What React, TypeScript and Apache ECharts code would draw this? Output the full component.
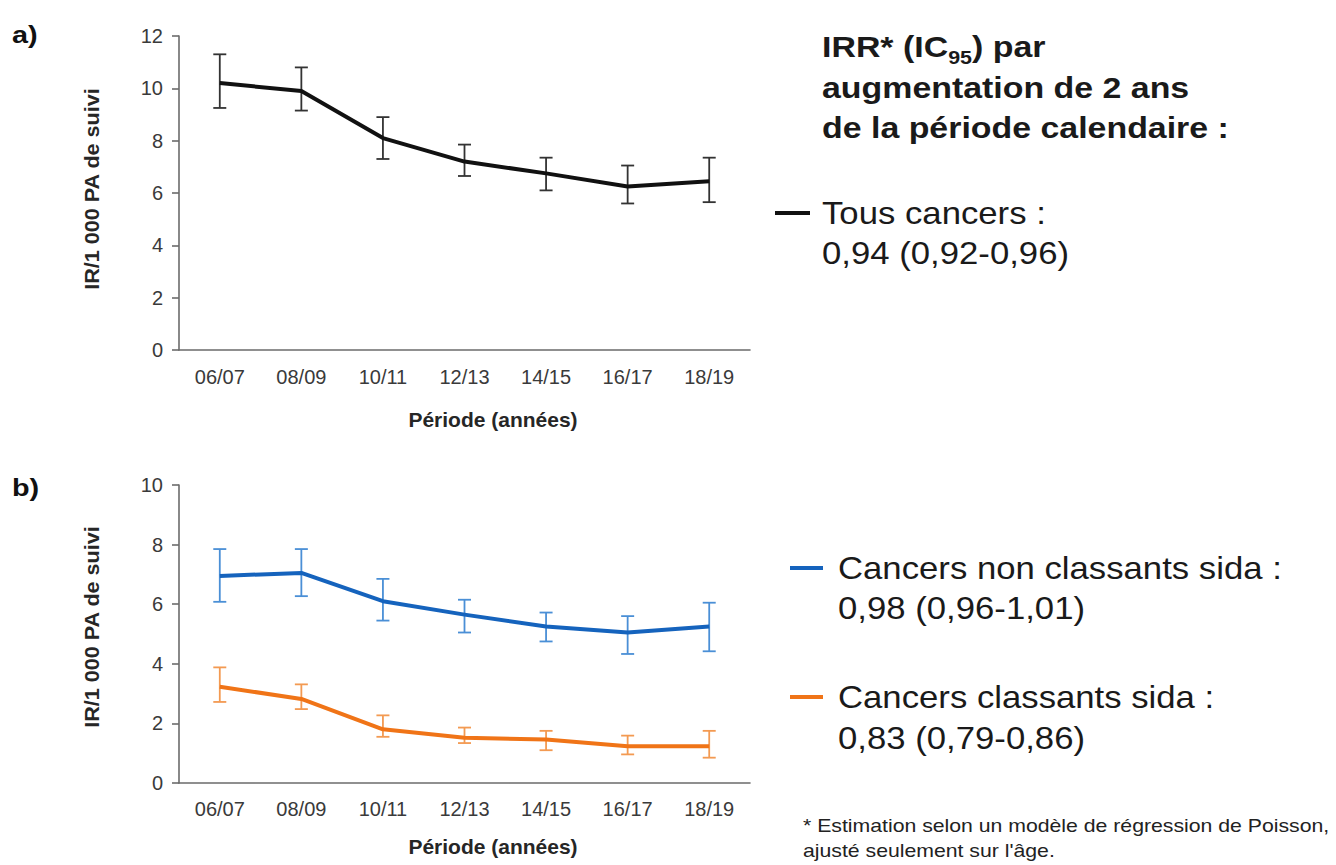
import React, { useEffect, useRef } from "react";
import * as echarts from "echarts";

// Calendar periods (two-year bins)
const periods = ["06/07", "08/09", "10/11", "12/13", "14/15", "16/17", "18/19"];

// a) All cancers: incidence rate per 1 000 person-years with 95% CI
const allCancers = [10.2, 9.9, 8.1, 7.2, 6.75, 6.25, 6.45];
const allCancersLow = [9.25, 9.15, 7.3, 6.65, 6.1, 5.6, 5.65];
const allCancersHigh = [11.3, 10.8, 8.9, 7.85, 7.35, 7.05, 7.35];

// b) Non AIDS-defining cancers
const nonAids = [6.95, 7.05, 6.1, 5.65, 5.25, 5.05, 5.25];
const nonAidsLow = [6.08, 6.27, 5.45, 5.05, 4.75, 4.33, 4.42];
const nonAidsHigh = [7.85, 7.85, 6.85, 6.15, 5.72, 5.6, 6.05];

// b) AIDS-defining cancers
const aids = [3.23, 2.82, 1.8, 1.52, 1.46, 1.23, 1.23];
const aidsLow = [2.72, 2.48, 1.55, 1.34, 1.1, 0.96, 0.85];
const aidsHigh = [3.88, 3.31, 2.27, 1.86, 1.75, 1.59, 1.75];

// Axis ranges
const yMaxA = 12;
const yMaxB = 10;
const yStep = 2;

const FONT = "'Liberation Sans', Arial, sans-serif";
const AXIS_COLOR = "#6b6b6b";
const LABEL_COLOR = "#3a3a3a";
const BLACK = "#111111";
const BLUE = "#1563bd";
const BLUE_BAR = "#4a8fd6";
const ORANGE = "#f07417";
const ORANGE_BAR = "#f39a52";

function errorBars(name: string, axis: number, low: number[], high: number[], color: string) {
  return {
    type: "custom",
    name,
    xAxisIndex: axis,
    yAxisIndex: axis,
    z: 2,
    data: low.map((l, i) => [i, l, high[i]]),
    encode: { x: 0, y: [1, 2] },
    renderItem: (_params: any, api: any) => {
      const x = api.value(0);
      const lo = api.coord([x, api.value(1)]);
      const hi = api.coord([x, api.value(2)]);
      const hw = 6.5;
      const style = { stroke: color, lineWidth: 1.8, fill: "none" };
      return {
        type: "group",
        children: [
          { type: "line", shape: { x1: lo[0], y1: lo[1], x2: hi[0], y2: hi[1] }, style },
          { type: "line", shape: { x1: lo[0] - hw, y1: lo[1], x2: lo[0] + hw, y2: lo[1] }, style },
          { type: "line", shape: { x1: hi[0] - hw, y1: hi[1], x2: hi[0] + hw, y2: hi[1] }, style },
        ],
      };
    },
  };
}

function lineSeries(name: string, axis: number, values: number[], color: string, width: number) {
  return {
    type: "line",
    name,
    xAxisIndex: axis,
    yAxisIndex: axis,
    z: 3,
    data: values,
    symbol: "none",
    lineStyle: { color, width, join: "round" },
    itemStyle: { color },
  };
}

function xAxis(grid: number, margin: number) {
  return {
    type: "category",
    gridIndex: grid,
    data: periods,
    boundaryGap: true,
    axisLine: { lineStyle: { color: AXIS_COLOR, width: 1.6 } },
    axisTick: { alignWithLabel: true, length: 6, lineStyle: { color: AXIS_COLOR, width: 1.6 } },
    axisLabel: { fontFamily: FONT, fontSize: 20, color: LABEL_COLOR, margin },
    splitLine: { show: false },
  };
}

function yAxis(grid: number, max: number) {
  return {
    type: "value",
    gridIndex: grid,
    min: 0,
    max,
    interval: yStep,
    axisLine: { show: true, lineStyle: { color: AXIS_COLOR, width: 1.6 } },
    axisTick: { show: true, length: 7, lineStyle: { color: AXIS_COLOR, width: 1.6 } },
    axisLabel: { fontFamily: FONT, fontSize: 20, color: LABEL_COLOR, margin: 16 },
    splitLine: { show: false },
  };
}

function text(
  x: number,
  y: number,
  t: string,
  size: number,
  opts: { weight?: string; color?: string; scaleX?: number; align?: string; rotation?: number } = {}
) {
  return {
    type: "text",
    x,
    y,
    scaleX: opts.scaleX ?? 1,
    rotation: opts.rotation ?? 0,
    style: {
      text: t,
      fontFamily: FONT,
      fontSize: size,
      fontWeight: opts.weight ?? "normal",
      fill: opts.color ?? "#1a1a1a",
      align: opts.align ?? "left",
      verticalAlign: "middle",
    },
  };
}

function legendLine(x1: number, x2: number, y: number, color: string) {
  return { type: "line", shape: { x1, y1: y, x2, y2: y }, style: { stroke: color, lineWidth: 4 } };
}

const LEGEND_SCALE = 1.12;
const TITLE_SCALE = 1.13;
const NOTE_SCALE = 1.18;

export default function App() {
  const ref = useRef<HTMLDivElement>(null);

  useEffect(() => {
    if (!ref.current) return;
    const chart = echarts.init(ref.current, undefined, { renderer: "svg" });
    const axisTitle = { weight: "bold", color: "#262626" };
    chart.setOption({
      animation: false,
      backgroundColor: "#ffffff",
      grid: [
        { left: 179, top: 36, width: 571, height: 314 },
        { left: 179, top: 485, width: 571, height: 298 },
      ],
      xAxis: [xAxis(0, 17), xAxis(1, 16)],
      yAxis: [yAxis(0, yMaxA), yAxis(1, yMaxB)],
      series: [
        errorBars("IC95 tous cancers", 0, allCancersLow, allCancersHigh, "#333333"),
        lineSeries("Tous cancers", 0, allCancers, BLACK, 4),
        errorBars("IC95 non classants", 1, nonAidsLow, nonAidsHigh, BLUE_BAR),
        lineSeries("Cancers non classants sida", 1, nonAids, BLUE, 4),
        errorBars("IC95 classants", 1, aidsLow, aidsHigh, ORANGE_BAR),
        lineSeries("Cancers classants sida", 1, aids, ORANGE, 4),
      ],
      graphic: [
        // panel tags
        text(12, 35, "a)", 24, { weight: "bold", color: "#111", scaleX: 1.2 }),
        text(12, 488, "b)", 24, { weight: "bold", color: "#111", scaleX: 1.2 }),
        // axis titles
        text(92, 189, "IR/1 000 PA de suivi", 20, { ...axisTitle, align: "center", rotation: Math.PI / 2, scaleX: 1.08 }),
        text(92, 627, "IR/1 000 PA de suivi", 20, { ...axisTitle, align: "center", rotation: Math.PI / 2, scaleX: 1.08 }),
        text(493, 420, "Période (années)", 20, { ...axisTitle, align: "center", scaleX: 1.05 }),
        text(493, 847, "Période (années)", 20, { ...axisTitle, align: "center", scaleX: 1.05 }),
        // IRR block
        {
          type: "text",
          x: 822,
          y: 47,
          scaleX: TITLE_SCALE,
          style: {
            text: "{b|IRR* (IC}{s|95}{b|) par}",
            align: "left",
            verticalAlign: "middle",
            rich: {
              b: { fontFamily: FONT, fontSize: 30, fontWeight: "bold", fill: "#1a1a1a", lineHeight: 40 },
              s: { fontFamily: FONT, fontSize: 19, fontWeight: "bold", fill: "#1a1a1a", lineHeight: 26, verticalAlign: "bottom" },
            },
          },
        },
        text(822, 88, "augmentation de 2 ans", 30, { weight: "bold", scaleX: TITLE_SCALE }),
        text(822, 128, "de la période calendaire :", 30, { weight: "bold", scaleX: TITLE_SCALE }),
        legendLine(775, 810, 213, BLACK),
        text(822, 213, "Tous cancers :", 31, { scaleX: LEGEND_SCALE }),
        text(822, 253, "0,94 (0,92-0,96)", 31, { scaleX: LEGEND_SCALE }),
        legendLine(790, 823, 568, BLUE),
        text(838, 568, "Cancers non classants sida :", 31, { scaleX: LEGEND_SCALE }),
        text(838, 608, "0,98 (0,96-1,01)", 31, { scaleX: LEGEND_SCALE }),
        legendLine(790, 823, 697, ORANGE),
        text(838, 697, "Cancers classants sida :", 31, { scaleX: LEGEND_SCALE }),
        text(838, 738, "0,83 (0,79-0,86)", 31, { scaleX: LEGEND_SCALE }),
        // footnote
        text(803, 826, "* Estimation selon un modèle de régression de Poisson,", 18, { color: "#222", scaleX: NOTE_SCALE }),
        text(803, 851, "ajusté seulement sur l'âge.", 18, { color: "#222", scaleX: NOTE_SCALE }),
      ],
    });
    return () => chart.dispose();
  }, []);

  return (
    <div
      ref={ref}
      style={{ position: "absolute", left: 0, top: 0, width: 1336, height: 865, background: "#fff" }}
    />
  );
}
